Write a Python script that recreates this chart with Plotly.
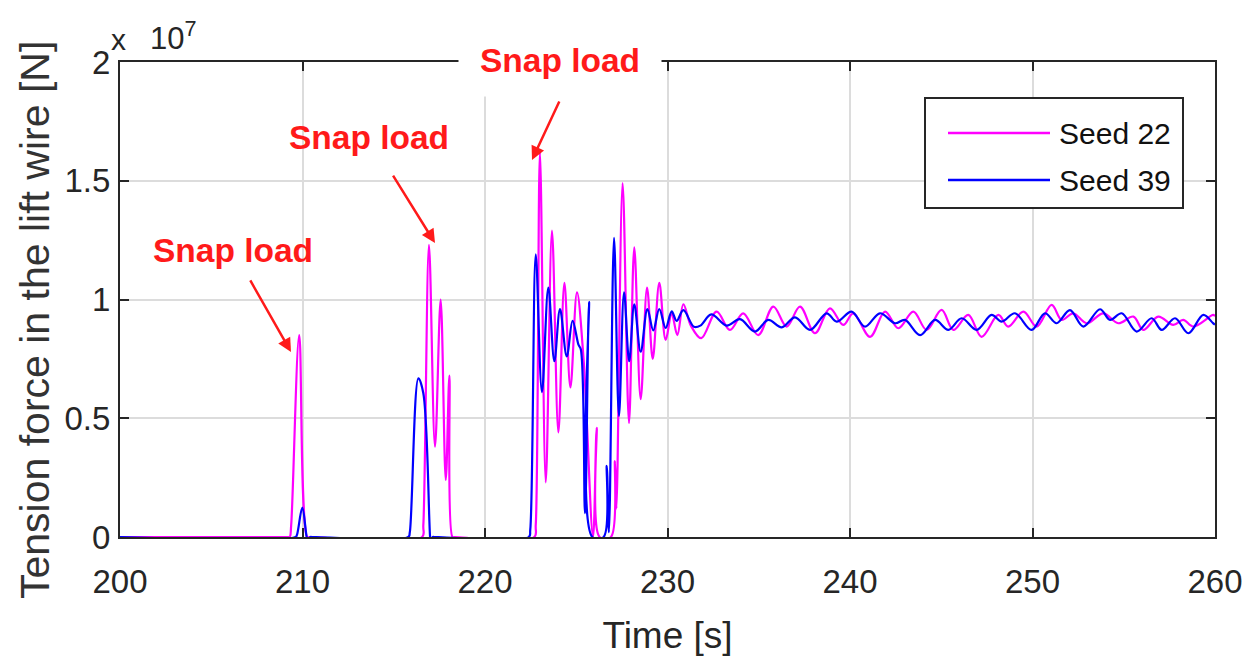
import plotly.graph_objects as go

# ---- data (time in s, tension in units of 1e7 N) ----
seed22_t = [200, 209.20, 209.30, 209.38, 209.82, 210.26, 210.40,
            216.55, 216.62, 216.93, 217.26, 217.57, 217.85, 218.05, 218.22, 218.35,
            222.70, 222.78, 223.01, 223.33, 223.67, 224.02, 224.35, 224.68, 225.04, 225.40,
            225.92, 226.12, 226.28, 226.90, 227.12, 227.20, 227.54, 227.89, 228.18, 228.53,
            228.88, 229.19, 229.55, 229.90, 230.23, 230.54, 230.87, 231.28, 231.85, 232.69,
            233.42, 234.15, 234.97, 235.80, 236.53, 237.26, 238.08, 238.90, 239.63, 240.18,
            241.10, 241.92, 242.65, 243.47, 244.20, 245.02, 245.66, 246.48, 247.21, 248.13,
            248.67, 249.50, 250.23, 251.05, 251.60, 252.23, 252.97, 253.88, 254.70, 255.53,
            256.07, 256.89, 257.71, 258.26, 258.81, 259.90, 260.0]
seed22_v = [0, 0, 0, 0.05, 0.85, 0, 0,
            0, 0.05, 1.23, 0.38, 1.00, 0.24, 0.68, 0, 0,
            0, 0.05, 1.62, 0.23, 1.29, 0.44, 1.07, 0.63, 1.03, 0.75,
            0, 0.46, 0, 0, 0.32, 0.12, 1.49, 0.48, 1.22, 0.58,
            1.05, 0.75, 1.07, 0.83, 0.94, 0.85, 0.98, 0.89, 0.837, 0.949,
            0.872, 0.942, 0.85, 0.97, 0.886, 0.97, 0.858, 0.963, 0.893, 0.942,
            0.843, 0.949, 0.879, 0.949, 0.872, 0.956, 0.872, 0.935, 0.843, 0.935,
            0.886, 0.949, 0.886, 0.977, 0.914, 0.942, 0.90, 0.942, 0.90, 0.928,
            0.872, 0.928, 0.893, 0.914, 0.886, 0.935, 0.93]

seed39_t = [200, 209.62, 209.70, 209.99, 210.23, 210.33, 210.42, 210.50, 210.60, 210.75,
            215.80, 215.88, 216.35, 216.62, 216.99, 217.05, 217.13, 217.20, 217.30, 217.45,
            222.40, 222.48, 222.78, 223.12, 223.47, 223.80, 224.11, 224.48, 224.80, 225.12,
            225.25, 225.48, 225.70, 225.88, 226.50, 226.67, 226.79, 227.07, 227.34, 227.62,
            227.90, 228.18, 228.53, 228.90, 229.22, 229.55, 229.90, 230.23, 230.50, 230.87,
            231.45, 231.80, 232.40, 233.24, 233.97, 234.79, 235.52, 236.26, 236.99, 237.81,
            238.72, 239.27, 240.09, 240.82, 241.64, 242.47, 243.01, 243.84, 244.66, 245.39,
            246.12, 246.94, 247.76, 248.31, 249.04, 249.95, 250.68, 251.32, 252.05, 252.79,
            253.70, 254.25, 254.89, 255.71, 256.53, 257.08, 257.81, 258.54, 259.36, 259.90, 260.0]
seed39_v = [0, 0, 0.01, 0.124, 0, -0.027, 0, 0, 0, 0,
            0, 0.02, 0.668, 0.605, 0, -0.048, 0, 0, 0, 0,
            0, 0.03, 1.19, 0.61, 1.05, 0.74, 0.96, 0.76, 0.91, 0.81,
            0.79, 0.10, 0.99, 0, 0, 0.30, 0.02, 1.26, 0.51, 1.03,
            0.74, 0.98, 0.78, 0.96, 0.87, 0.96, 0.88, 0.95, 0.91, 0.955,
            0.885, 0.89, 0.937, 0.89, 0.917, 0.865, 0.914, 0.883, 0.925, 0.872,
            0.942, 0.907, 0.949, 0.886, 0.942, 0.90, 0.914, 0.85, 0.914, 0.872,
            0.921, 0.872, 0.935, 0.907, 0.942, 0.872, 0.942, 0.90, 0.955, 0.886,
            0.959, 0.914, 0.942, 0.865, 0.921, 0.872, 0.921, 0.858, 0.935, 0.90, 0.895]

x_ticks = [200, 210, 220, 230, 240, 250, 260]
y_ticks = [0, 0.5, 1, 1.5, 2]
y_tick_labels = ["0", "0.5", "1", "1.5", "2"]
series_names = ["Seed 22", "Seed 39"]
series_colors = ["#ff00ff", "#0000ff"]

# ---- layout geometry (pixels); page body adds an 8px offset ----
OFF = 8
W, H = 1248, 658
L, R, T, B = 112, 41, 54, 129
PW, PH = W - L - R, H - T - B


def px_x(px):
    return (px - OFF - L) / PW


def px_y(py):
    return (H - B - (py - OFF)) / PH


fig = go.Figure()
fig.add_trace(go.Scatter(x=seed22_t, y=seed22_v, mode="lines", name=series_names[0],
                         line=dict(color=series_colors[0], width=2.2, shape="spline", smoothing=1.0),
                         showlegend=False))
fig.add_trace(go.Scatter(x=seed39_t, y=seed39_v, mode="lines", name=series_names[1],
                         line=dict(color=series_colors[1], width=2.2, shape="spline", smoothing=1.0),
                         showlegend=False))

axis_common = dict(showline=True, linecolor="#262626", linewidth=2, mirror="ticks",
                   ticks="inside", ticklen=9, tickwidth=2, tickcolor="#262626",
                   showgrid=True, gridcolor="#dcdcdc", gridwidth=1.5, zeroline=False,
                   layer="below traces",
                   tickfont=dict(family="Liberation Sans, Arial", size=33, color="#262626"))

fig.update_xaxes(range=[200, 260], tickvals=x_ticks, ticklabelstandoff=14,
                 title=dict(text="Time [s]", standoff=24,
                            font=dict(family="Liberation Sans, Arial", size=37, color="#262626")),
                 **axis_common)
fig.update_yaxes(range=[0, 2], tickvals=y_ticks, ticktext=y_tick_labels, ticklabelstandoff=1,
                 **axis_common)

red = "#ff1a1a"
snap_font = dict(family="Liberation Sans, Arial", size=33.5, color=red)
XR, YR = "x domain", "y domain"
annotations = []
# y-axis title (placed as in the reference, slightly below the axis centre)
annotations.append(dict(x=px_x(35), y=px_y(320), xref="paper", yref="paper",
                        text="Tension force in the lift wire [N]", textangle=-90,
                        showarrow=False, xanchor="center", yanchor="middle",
                        font=dict(family="Liberation Sans, Arial", size=41, color="#333333")))
# "Snap load" labels with their arrows: (text centre), (arrow tip), start gap
for (cx, cy), (hx, hy), gap in [((233, 250), (291, 352), 12), ((369, 137), (435, 243), 22)]:
    annotations.append(dict(x=px_x(hx), y=px_y(hy), xref=XR, yref=YR,
                            ax=px_x(cx), ay=px_y(cy), axref=XR, ayref=YR,
                            text="<b>Snap load</b>", font=snap_font,
                            showarrow=True, arrowhead=2, arrowsize=1.1, arrowwidth=2.5,
                            arrowcolor=red, startstandoff=gap))
annotations.append(dict(x=px_x(560), y=px_y(60), xref=XR, yref=YR,
                        text="<b>Snap load</b>", showarrow=False, font=snap_font,
                        xanchor="center", yanchor="middle", bgcolor="white",
                        width=200, height=70))
# third arrow (tail -> tip)
annotations.append(dict(x=px_x(532), y=px_y(160), xref=XR, yref=YR,
                        ax=px_x(560), ay=px_y(100), axref=XR, ayref=YR,
                        text="", showarrow=True, arrowhead=2, arrowsize=1.1,
                        arrowwidth=2.5, arrowcolor=red))
# exponent label
annotations.append(dict(x=px_x(118), y=px_y(40), xref="paper", yref="paper", text="x",
                        showarrow=False, xanchor="center", yanchor="middle",
                        font=dict(family="Liberation Sans, Arial", size=30, color="#262626")))
annotations.append(dict(x=px_x(148), y=px_y(36), xref="paper", yref="paper",
                        text="10<sup>7</sup>", showarrow=False, xanchor="left", yanchor="middle",
                        font=dict(family="Liberation Sans, Arial", size=31, color="#262626")))

# manual legend
shapes = [dict(type="rect", xref="paper", yref="paper", x0=px_x(925), x1=px_x(1183),
               y0=px_y(208), y1=px_y(98), line=dict(color="#262626", width=2),
               fillcolor="white", layer="above")]
for i, (name, col) in enumerate(zip(series_names, series_colors)):
    yy = [133, 180][i]
    shapes.append(dict(type="line", xref="paper", yref="paper", x0=px_x(948), x1=px_x(1050),
                       y0=px_y(yy), y1=px_y(yy), line=dict(color=col, width=2.5), layer="above"))
    annotations.append(dict(x=px_x(1057), y=px_y(yy), xref="paper", yref="paper", text=name,
                            showarrow=False, xanchor="left", yanchor="middle",
                            font=dict(family="Liberation Sans, Arial", size=30, color="#111111")))

fig.update_layout(width=W, height=H, margin=dict(l=L, r=R, t=T, b=B, autoexpand=False),
                  paper_bgcolor="white", plot_bgcolor="white",
                  annotations=annotations, shapes=shapes, showlegend=False)

fig.write_html("out.html")
